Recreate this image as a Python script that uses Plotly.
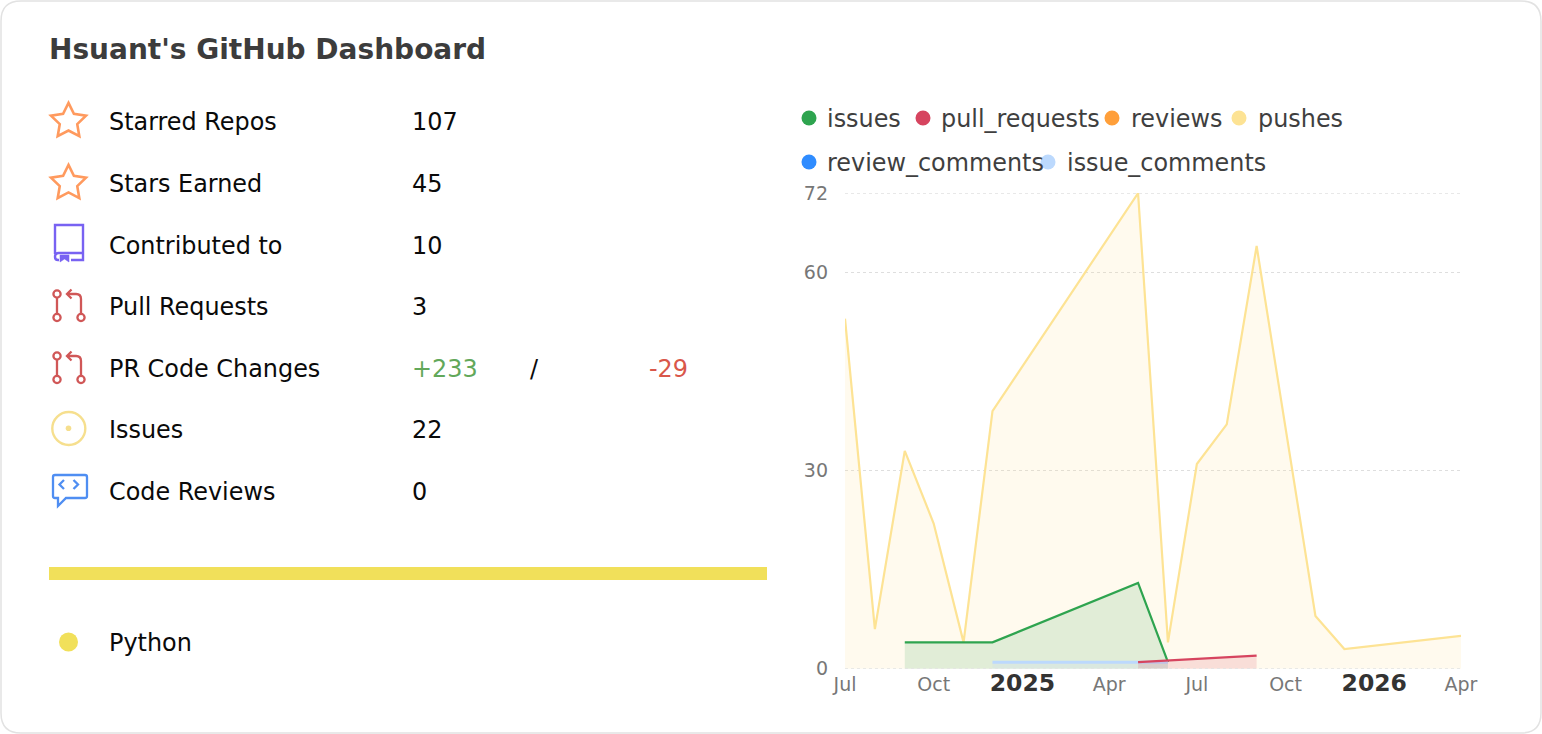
import plotly.graph_objects as go

W, H = 1542, 734
FONT = "DejaVu Sans"

# ---------------- data ----------------
push_months = ["2024-07-01", "2024-08-01", "2024-09-01", "2024-10-01", "2024-11-01", "2024-12-01",
               "2025-05-01", "2025-06-01", "2025-07-01", "2025-08-01", "2025-09-01", "2025-11-01",
               "2025-12-01", "2026-04-01"]
push_counts = [53, 6, 33, 22, 4, 39, 72, 4, 31, 37, 64, 8, 3, 5]

issue_months = ["2024-09-01", "2024-12-01", "2025-05-01", "2025-06-01"]
issue_counts = [4, 4, 13, 1]

pr_months = ["2025-05-01", "2025-09-01"]
pr_counts = [1, 2]

issue_comment_months = ["2024-12-01", "2025-06-01"]
issue_comment_counts = [1, 1]

review_months = []
review_counts = []
review_comment_months = []
review_comment_counts = []

series_names = ["issues", "pull_requests", "reviews", "pushes", "review_comments", "issue_comments"]
series_colors = ["#2ea44f", "#d6445f", "#ff9f3a", "#fde394", "#2f8cff", "#bcd9fd"]

stat_labels = ["Starred Repos", "Stars Earned", "Contributed to", "Pull Requests",
               "PR Code Changes", "Issues", "Code Reviews"]
stat_values = ["107", "45", "10", "3", None, "22", "0"]
pr_additions = "+233"
pr_deletions = "-29"

languages = ["Python"]
language_share = [100]
language_colors = ["#f1e05a"]

x_tick_vals = ["2024-07-01", "2024-10-01", "2025-01-01", "2025-04-01",
               "2025-07-01", "2025-10-01", "2026-01-01", "2026-04-01"]
x_tick_text = ["Jul", "Oct", "2025", "Apr", "Jul", "Oct", "2026", "Apr"]
x_year_ticks = ["2025", "2026"]
y_tick_vals = [0, 30, 60, 72]


# ---------------- helpers (pixel -> paper) ----------------
def px(x):
    return x / W


def py(y):
    return 1 - y / H


def pt(x, y):
    return f"{px(x):.5f},{py(y):.5f}"


def path(cmds):
    out = []
    for c in cmds:
        if c == "Z":
            out.append("Z")
        else:
            k = c[0]
            nums = c[1:]
            coords = " ".join(pt(nums[i], nums[i + 1]) for i in range(0, len(nums), 2))
            out.append(f"{k}{coords}")
    return " ".join(out)


shapes = []
annotations = []


def add_path(cmds, color, width=2.2, fill=None):
    shapes.append(dict(type="path", xref="paper", yref="paper", path=path(cmds),
                       line=dict(color=color, width=width),
                       fillcolor=fill if fill else "rgba(0,0,0,0)"))


def add_circle(cx, cy, r, color, width=2.2, fill=None):
    shapes.append(dict(type="circle", xref="paper", yref="paper",
                       x0=px(cx - r), x1=px(cx + r), y0=py(cy + r), y1=py(cy - r),
                       line=dict(color=color, width=width if not fill else 0),
                       fillcolor=fill if fill else "rgba(0,0,0,0)"))


TEXT_DY = 0.8


def add_text(x, y, text, size=23.9, color="#0a0a0a", anchor="left"):
    annotations.append(dict(xref="paper", yref="paper", x=px(x), y=py(y + TEXT_DY), text=text,
                            showarrow=False, xanchor=anchor, yanchor="middle",
                            font=dict(family=FONT, size=size, color=color),
                            borderpad=0))


# ---------------- card border ----------------
R = 20
shapes.append(dict(type="path", xref="paper", yref="paper", layer="below",
                   path=path([("M", 1 + R, 1), ("L", W - 1 - R, 1), ("Q", W - 1, 1, W - 1, 1 + R),
                              ("L", W - 1, H - 1 - R), ("Q", W - 1, H - 1, W - 1 - R, H - 1),
                              ("L", 1 + R, H - 1), ("Q", 1, H - 1, 1, H - 1 - R),
                              ("L", 1, 1 + R), ("Q", 1, 1, 1 + R, 1), "Z"]),
                   line=dict(color="#e2e2e2", width=1.5), fillcolor="white"))

# ---------------- title ----------------
add_text(48, 49, "<b>Hsuant's GitHub Dashboard</b>", size=28, color="#3c3c3c")

# ---------------- stats rows ----------------
row_y = [121, 183, 245, 306, 368, 429, 491]
for lab, val, yy in zip(stat_labels, stat_values, row_y):
    add_text(108, yy, lab)
    if val is not None:
        add_text(411, yy, val)
add_text(411, row_y[4], pr_additions, color="#62a85a")
add_text(529, row_y[4], "/")
add_text(648, row_y[4], pr_deletions, color="#d9574a")

# ---------------- icons ----------------
STAR = [(12, 2), (15.09, 8.26), (22, 9.27), (17, 14.14), (18.18, 21.02), (12, 17.77),
        (5.82, 21.02), (7, 14.14), (2, 9.27), (8.91, 8.26)]
star_col = "#ff9a5e"
for yy in row_y[:2]:
    cy = yy - 1.5
    s = 1.75
    cmds = []
    for i, (u, v) in enumerate(STAR):
        cmds.append(("M" if i == 0 else "L", 68.5 + (u - 12) * s, cy + (v - 11.5) * s))
    cmds.append("Z")
    add_path(cmds, star_col, 2.6)

# book (Contributed to)
book_col = "#7862f2"
yb = row_y[2]
add_path([("M", 55, yb + 9), ("L", 55, yb - 20), ("L", 83, yb - 20), ("L", 83, yb + 15),
          ("L", 71, yb + 15)], book_col, 2.4)
add_path([("M", 59, yb + 15), ("L", 58, yb + 15), ("Q", 55, yb + 15, 55, yb + 12),
          ("Q", 55, yb + 8, 58.5, yb + 8), ("L", 83, yb + 8)], book_col, 2.4)
add_path([("M", 60, yb + 10), ("L", 69, yb + 10), ("L", 69, yb + 17), ("L", 64.5, yb + 14),
          ("L", 60, yb + 17), "Z"], book_col, 0.5, fill=book_col)

# pull request icons
pr_col = "#d05757"
for yy in row_y[3:5]:
    top = yy - 12
    bot = yy + 11.5
    add_circle(57, top, 3.6, pr_col, 2.3)
    add_circle(57, bot, 3.6, pr_col, 2.3)
    add_circle(81, bot, 3.6, pr_col, 2.3)
    add_path([("M", 57, top + 3.6), ("L", 57, bot - 3.6)], pr_col, 2.3)
    add_path([("M", 81, bot - 3.6), ("L", 81, top + 5), ("Q", 81, top, 76, top), ("L", 67, top)], pr_col, 2.3)
    add_path([("M", 71.5, top - 4.5), ("L", 67, top), ("L", 71.5, top + 4.5)], pr_col, 2.3)

# issue icon
iss_col = "#f6df8e"
add_circle(68.8, row_y[5] - 0.5, 16.5, iss_col, 2.4)
add_circle(68.5, row_y[5] - 0.8, 2.8, iss_col, fill=iss_col)

# code review icon
cr_col = "#4f8ef2"
yc = row_y[6]
add_path([("M", 55, yc - 16), ("L", 85, yc - 16), ("Q", 87, yc - 16, 87, yc - 14),
          ("L", 87, yc + 5), ("Q", 87, yc + 7, 85, yc + 7), ("L", 66, yc + 7),
          ("L", 58, yc + 15), ("L", 58, yc + 7), ("L", 55, yc + 7),
          ("Q", 53, yc + 7, 53, yc + 5), ("L", 53, yc - 14), ("Q", 53, yc - 16, 55, yc - 16), "Z"],
         cr_col, 2.3)
add_path([("M", 64, yc - 11), ("L", 59.5, yc - 6.5), ("L", 64, yc - 2)], cr_col, 2.3)
add_path([("M", 73.5, yc - 11), ("L", 78, yc - 6.5), ("L", 73.5, yc - 2)], cr_col, 2.3)

# ---------------- language legend ----------------
for i, (lang, colr) in enumerate(zip(languages, language_colors)):
    yy = 642 + i * 40
    add_circle(68.5, yy, 9.5, colr, fill=colr)
    add_text(108, yy, lang)

# ---------------- chart legend (manual) ----------------
legend_pos = [(809, 118, 827), (923, 118, 941), (1112, 118, 1131), (1239, 118, 1258),
              (809, 162, 827), (1048, 162, 1067)]
for name, colr, (dx, dy, tx) in zip(series_names, series_colors, legend_pos):
    add_circle(dx, dy, 7.5, colr, fill=colr)
    add_text(tx - 1, dy, name, size=23.9, color="#3f3f3f")

# dashed baseline drawn over the fills, and the top grid line
shapes.append(dict(type="line", xref="x domain", yref="y", x0=0, x1=1, y0=0, y1=0,
                   line=dict(color="#e2e2e2", width=1.2, dash="3px,3px"), layer="above"))
shapes.append(dict(type="line", xref="x domain", yref="y", x0=0, x1=1, y0=y_tick_vals[-1], y1=y_tick_vals[-1],
                   line=dict(color="#dedede", width=1, dash="3px,3px"), layer="below"))

# ---------------- traces ----------------
fig = go.Figure()


def rgba(hexc, a):
    hexc = hexc.lstrip("#")
    r, g, b = int(hexc[0:2], 16), int(hexc[2:4], 16), int(hexc[4:6], 16)
    return f"rgba({r},{g},{b},{a})"


series_data = {
    "pushes": (push_months, push_counts, 0.16, 2.2),
    "issues": (issue_months, issue_counts, 0.14, 2.2),
    "reviews": (review_months, review_counts, 0.14, 2.2),
    "review_comments": (review_comment_months, review_comment_counts, 0.14, 2.2),
    "issue_comments": (issue_comment_months, issue_comment_counts, 0.2, 3),
    "pull_requests": (pr_months, pr_counts, 0.15, 2.2),
}
draw_order = ["pushes", "issues", "reviews", "review_comments", "issue_comments", "pull_requests"]
for name in draw_order:
    xs, ys, alpha, lw = series_data[name]
    colr = series_colors[series_names.index(name)]
    fig.add_trace(go.Scatter(x=xs, y=ys, name=name, mode="lines", fill="tozeroy",
                             line=dict(color=colr, width=lw), fillcolor=rgba(colr, alpha),
                             showlegend=False, xaxis="x", yaxis="y",
                             hoverinfo="skip"))

# language bar
for lang, share, colr in zip(languages, language_share, language_colors):
    fig.add_trace(go.Bar(x=[share], y=[0], orientation="h", marker=dict(color=colr, line=dict(width=0)),
                         width=1, name=lang, showlegend=False, xaxis="x3", yaxis="y3", hoverinfo="skip"))

ticktext = []
for t in x_tick_text:
    if t in x_year_ticks:
        ticktext.append(f"<b><span style='font-size:23.5px;color:#333333'>{t}</span></b>")
    else:
        ticktext.append(t)

fig.update_layout(
    width=W, height=H,
    margin=dict(l=0, r=0, t=0, b=0, pad=0),
    paper_bgcolor="white", plot_bgcolor="rgba(0,0,0,0)",
    font=dict(family=FONT),
    shapes=shapes, annotations=annotations,
    showlegend=False,
    xaxis=dict(domain=[845 / W, 1461 / W], type="date", range=["2024-07-01", "2026-04-01"],
               tickvals=x_tick_vals, ticktext=ticktext, showgrid=False, zeroline=False,
               showline=False, ticks="", tickfont=dict(size=19, color="#777777", family=FONT),
               anchor="y", fixedrange=True, ticklabelstandoff=2, automargin=False),
    yaxis=dict(domain=[1 - 669 / H, 1 - 193 / H], range=[-0.03, 72.03], tickvals=y_tick_vals,
               showgrid=True, gridcolor="#dedede", griddash="3px,3px", gridwidth=1,
               zeroline=False, showline=False, ticks="",
               tickfont=dict(size=19, color="#777777", family=FONT),
               ticklabelstandoff=16, anchor="x", fixedrange=True, automargin=False),
    xaxis3=dict(domain=[49 / W, 767 / W], range=[0, 100], visible=False, anchor="y3", fixedrange=True),
    yaxis3=dict(domain=[1 - 580 / H, 1 - 567 / H], range=[-0.5, 0.5], visible=False, anchor="x3",
                fixedrange=True),
)

fig.write_html("out.html", config={"displayModeBar": False},
               post_script="document.body.style.margin='0';document.body.style.overflow='hidden';")
